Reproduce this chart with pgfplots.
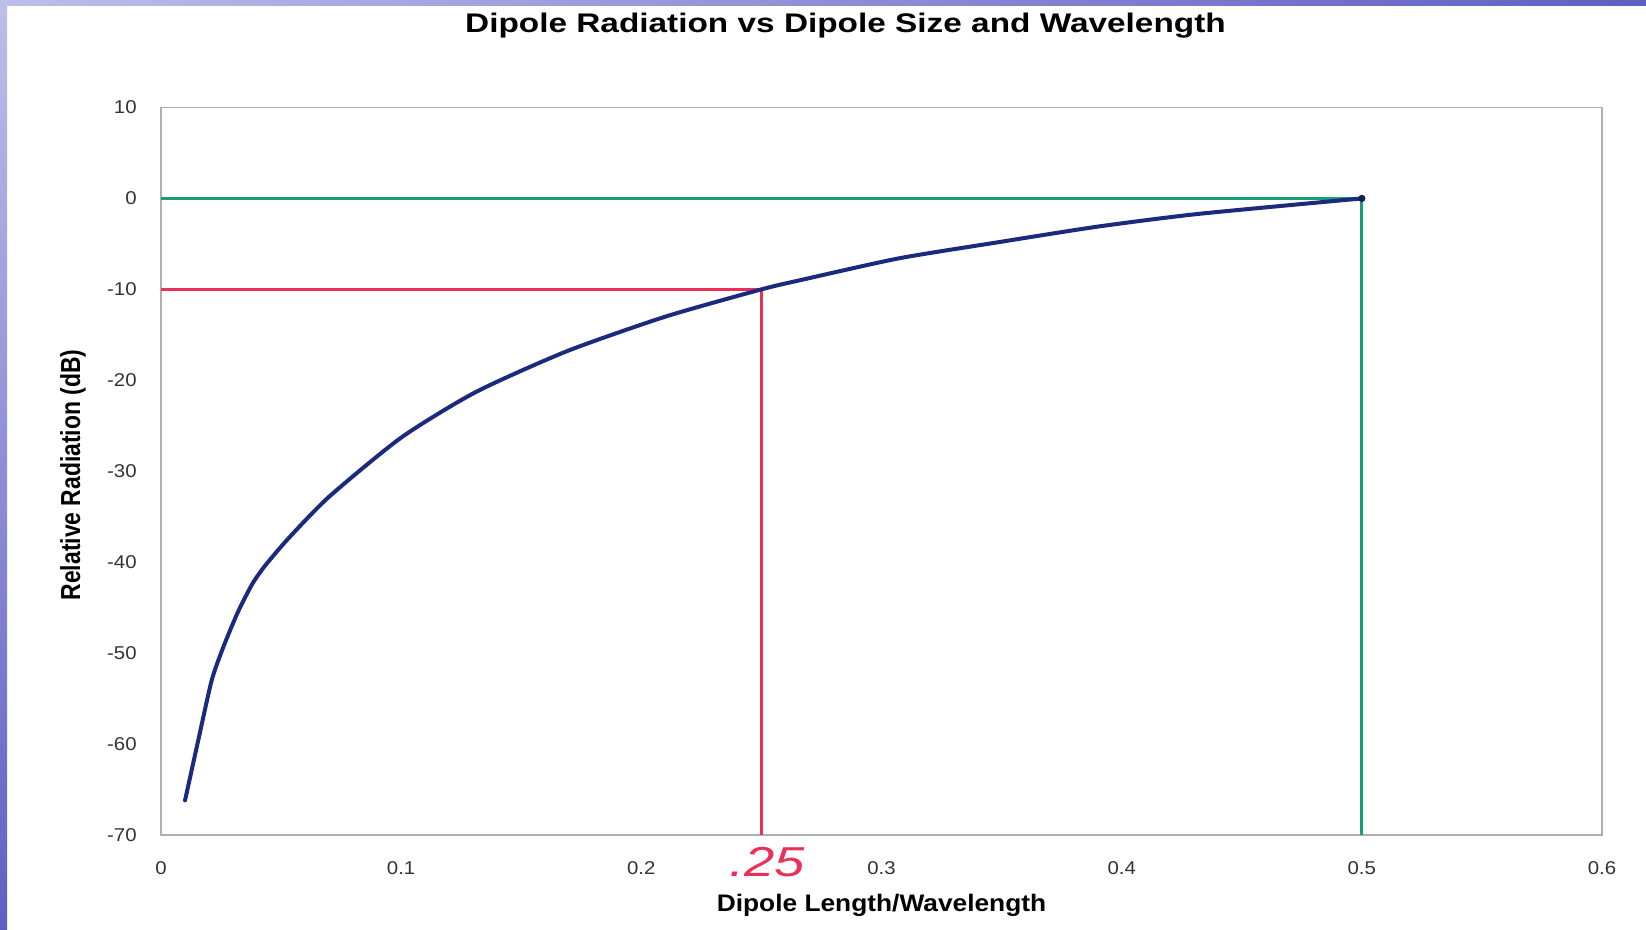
\documentclass[border=0pt]{standalone}
\usepackage{pgfplots}
\pgfplotsset{compat=1.18}
\usepackage{fontspec}
\setmainfont{Liberation Sans}
\usepackage{graphicx}

\definecolor{curveblue}{RGB}{28,42,125}
\definecolor{markred}{RGB}{232,48,88}
\definecolor{markgreen}{RGB}{24,158,118}
\definecolor{framegray}{RGB}{175,175,175}
\definecolor{slidelight}{RGB}{190,190,235}
\definecolor{slidedark}{RGB}{95,95,195}

% scanned chart is stretched sideways a little
\newcommand{\hs}[2][1.1]{\scalebox{#1}[1]{#2}}

\begin{document}
\begin{tikzpicture}
\useasboundingbox (0,0) rectangle (823bp,465bp);
\fill[white] (0,0) rectangle (823bp,465bp);
\shade[left color=slidelight, right color=slidedark] (0,462bp) rectangle (823bp,465bp);
\shade[top color=slidelight, bottom color=slidedark] (0,0) rectangle (3.5bp,465bp);
\begin{axis}[
    at={(80.5bp,47.5bp)}, anchor=south west,
    scale only axis, width=720.5bp, height=363.75bp,
    xmin=0, xmax=0.6, ymin=-70, ymax=10,
    clip=false,
    axis line style={framegray, line width=0.6bp},
    major tick length=0pt,
    xtick={0,0.1,0.2,0.3,0.4,0.5,0.6},
    xticklabels={\hs{0},\hs{0.1},\hs{0.2},\hs{0.3},\hs{0.4},\hs{0.5},\hs{0.6}},
    ytick={-70,-60,-50,-40,-30,-20,-10,0,10},
    yticklabels={\hs{-70},\hs{-60},\hs{-50},\hs{-40},\hs{-30},\hs{-20},\hs{-10},\hs{0},\hs{10}},
    tick label style={font=\fontsize{9.3}{11}\selectfont, text=black!80},
    xticklabel style={anchor=center, inner sep=0pt, yshift=-16.5bp},
    yticklabel style={anchor=east, inner sep=0pt, xshift=-12bp},
    every axis title shift=0pt,
    title={\hs[1.24]{Dipole Radiation vs Dipole Size and Wavelength}},
    title style={font=\fontsize{13.5}{16}\selectfont\bfseries, inner sep=0pt,
        at={(axis description cs:0.475,1.112)}, anchor=center},
    xlabel={\hs{Dipole Length/Wavelength}},
    xlabel style={font=\fontsize{12}{14}\selectfont\bfseries, inner sep=0pt,
        at={(axis description cs:0.5,-0.0962)}, anchor=center},
    ylabel={\scalebox{1}[1.2]{Relative Radiation (dB)}},
    ylabel style={font=\fontsize{11.5}{14}\selectfont\bfseries, inner sep=0pt,
        at={(axis description cs:-0.061,0.495)}, anchor=center},
]
% guide lines
\addplot[markred, line width=1.5bp] coordinates {(0,-10) (0.25,-10) (0.25,-70)};
\addplot[markgreen, line width=1.5bp] coordinates {(0,0) (0.5,0) (0.5,-70)};

% dipole radiation curve
\addplot[curveblue, line width=2bp, smooth, tension=0.4, line cap=round] coordinates {
    (0.010,-66.2) (0.0155,-59.6) (0.0211,-53.0) (0.026,-49.3) (0.032,-45.5)
    (0.038,-42.4) (0.0433,-40.4) (0.053,-37.4) (0.070,-32.8) (0.100,-26.3)
    (0.131,-21.3) (0.169,-16.8) (0.210,-13.0) (0.250,-10.0) (0.266,-9.0)
    (0.307,-6.6) (0.349,-4.8) (0.390,-3.1) (0.432,-1.7) (0.500,0.0)
};
\addplot[only marks, mark=*, mark size=1.6bp, curveblue!70!black] coordinates {(0.5,0)};

% handwritten note
\node[markred, font=\fontsize{21}{21}\selectfont\itshape] at (axis cs:0.2525,-73) {\hs[1.3]{.25}};
\end{axis}
\end{tikzpicture}
\end{document}
